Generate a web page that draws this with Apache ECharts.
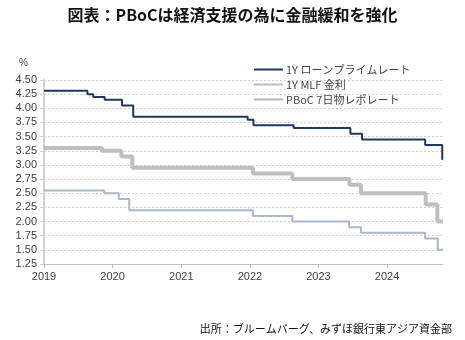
<!DOCTYPE html>
<html><head><meta charset="utf-8">
<script src="https://cdn.jsdelivr.net/npm/echarts@6/dist/echarts.min.js"></script>
<style>html,body{margin:0;padding:0;background:#fff}#c{width:465px;height:340px}</style>
</head><body><div id="c"></div>
<script>
const titleText = '図表：PBoCは経済支援の為に金融緩和を強化';
const sourceText = '出所：ブルームバーグ、みずほ銀行東アジア資金部';
const seriesNames = ['1Y ローンプライムレート', '1Y MLF 金利', 'PBoC 7日物レポレート'];
const yearTicks = ['2019-01-01','2020-01-01','2021-01-01','2022-01-01','2023-01-01','2024-01-01'];
const lprDates = ['2019-01-01','2019-08-20','2019-09-20','2019-11-20','2020-02-20','2020-04-20','2021-12-20','2022-01-20','2022-08-22','2023-06-20','2023-08-21','2024-07-22','2024-10-21','2024-10-25'];
const lprValues = [4.31,4.25,4.20,4.15,4.05,3.85,3.80,3.70,3.65,3.55,3.45,3.35,3.10,3.10];
const mlfDates = ['2019-01-01','2019-11-05','2020-02-17','2020-04-15','2022-01-17','2022-08-15','2023-06-15','2023-08-15','2024-07-25','2024-09-25','2024-10-25'];
const mlfValues = [3.30,3.25,3.15,2.95,2.85,2.75,2.65,2.50,2.30,2.00,2.00];
const repoDates = ['2019-01-01','2019-11-18','2020-02-03','2020-03-30','2022-01-17','2022-08-15','2023-06-13','2023-08-15','2024-07-22','2024-09-27','2024-10-25'];
const repoValues = [2.55,2.50,2.40,2.20,2.10,2.00,1.90,1.80,1.70,1.50,1.50];
const yMin = 1.25, yMax = 4.5, yStep = 0.25;
const xMin = '2019-01-01', xMax = '2024-10-25';

const ts = d => Date.parse(d + 'T00:00:00Z');
const zip = (d, v) => d.map((x, i) => [ts(x), v[i]]);
const colors = ['#1f3864', '#bfbfbf', '#a9b8cc'];
const widths = [2, 4, 2];
const chart = echarts.init(document.getElementById('c'), null, {renderer: 'canvas'});
const font = 'Liberation Sans, Arial, sans-serif';
const cjk = '"Noto Sans CJK JP", sans-serif';
const tickVals = yearTicks.map(ts);
chart.setOption({
  animation: false,
  title: [
    {text: titleText, left: 'center', top: 2, textStyle: {fontFamily: cjk, fontSize: 16, fontWeight: 'bold', color: '#111'}},
    {text: '%', left: 14, top: 53, textStyle: {fontFamily: font, fontSize: 10, fontWeight: 'normal', color: '#404040'}},
    {text: sourceText, right: 8, top: 318, textStyle: {fontFamily: cjk, fontSize: 11, fontWeight: 'normal', color: '#111'}}
  ],
  legend: {
    orient: 'vertical', left: 248, top: 59, itemWidth: 29, itemHeight: 12, itemGap: 4, padding: [5, 5, 5, 5],
    itemStyle: {opacity: 0},
    textStyle: {fontFamily: cjk, fontSize: 11, color: '#454545', padding: [0, 0, 0, -2]},
    data: seriesNames
  },
  grid: {left: 44, right: 22, top: 80, bottom: 76},
  xAxis: {
    type: 'value', min: ts(xMin), max: ts(xMax),
    axisLine: {show: true, lineStyle: {color: '#bfbfbf', width: 1}},
    axisTick: {show: true, customValues: tickVals, length: 4, lineStyle: {color: '#bfbfbf'}},
    axisLabel: {customValues: tickVals, formatter: v => String(new Date(v).getUTCFullYear()), color: '#404040', fontFamily: font, fontSize: 11, margin: 7},
    splitLine: {show: false}
  },
  yAxis: {
    type: 'value', min: yMin, max: yMax, interval: yStep,
    axisLine: {show: true, lineStyle: {color: '#d0d0d0', width: 2}},
    axisTick: {show: true, length: 4, lineStyle: {color: '#d0d0d0'}},
    axisLabel: {formatter: v => v.toFixed(2), color: '#404040', fontFamily: font, fontSize: 11, margin: 7},
    splitLine: {show: true, lineStyle: {color: '#cfcfcf', type: [2, 2], width: 1}}
  },
  series: [
    {name: seriesNames[0], type: 'line', step: 'end', symbol: 'none', data: zip(lprDates, lprValues), lineStyle: {color: colors[0], width: widths[0]}, itemStyle: {color: colors[0]}, z: 4},
    {name: seriesNames[1], type: 'line', step: 'end', symbol: 'none', data: zip(mlfDates, mlfValues), lineStyle: {color: colors[1], width: widths[1]}, itemStyle: {color: colors[1]}, z: 3},
    {name: seriesNames[2], type: 'line', step: 'end', symbol: 'none', data: zip(repoDates, repoValues), lineStyle: {color: colors[2], width: widths[2]}, itemStyle: {color: colors[2]}, z: 2}
  ]
});
</script></body></html>
